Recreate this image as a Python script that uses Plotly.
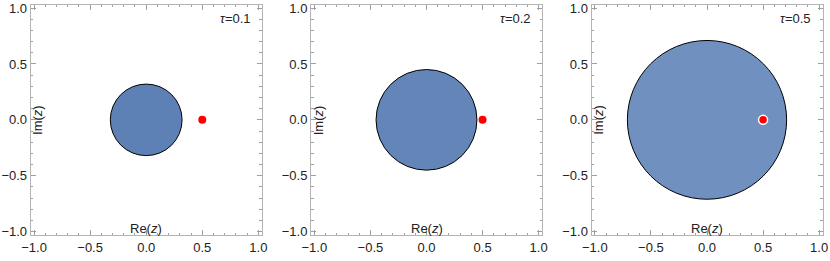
import plotly.graph_objects as go

# ---- data ----
tau_values = [0.1, 0.2, 0.5]
tau_labels = ["0.1", "0.2", "0.5"]
disk_radii = [0.32, 0.45, 0.71]          # radius of eigenvalue disk (|z|)
outlier_re = [0.5, 0.5, 0.5]             # red outlier point
outlier_im = [0.0, 0.0, 0.0]
tick_vals = [-1.0, -0.5, 0.0, 0.5, 1.0]
tick_text = ["\u22121.0", "\u22120.5", "0.0", "0.5", "1.0"]
axis_range = [-1.03, 1.03]

# ---- styles ----
W, H = 830, 261
disk_fills = ["#5E81B5", "#6385B8", "#7090C0"]
FRAME = "#b4b4b4"
TICK = "#a0a0a0"
FONT = "Liberation Sans, Arial, sans-serif"
panel_left_px = [30.7, 311.0, 591.5]
panel_w_px = 231.0
top_px, bottom_px = 4.7, 235.0

fig = go.Figure()
shapes = []
annotations = []
for i in range(3):
    n = "" if i == 0 else str(i + 1)
    xa, ya = "x" + n, "y" + n
    r = disk_radii[i]
    shapes.append(dict(type="circle", xref=xa, yref=ya, x0=-r, x1=r, y0=-r, y1=r,
                       fillcolor=disk_fills[i], line=dict(color="black", width=1),
                       layer="below"))
    fig.add_trace(go.Scatter(
        x=[outlier_re[i]], y=[outlier_im[i]], mode="markers", xaxis=xa, yaxis=ya,
        marker=dict(color="#ff0000", size=9 if i == 2 else 8,
                    line=dict(color="white", width=1.5 if i == 2 else 0)),
        showlegend=False, hoverinfo="skip"))
    x0 = panel_left_px[i] / W
    x1 = (panel_left_px[i] + panel_w_px) / W
    axis_common = dict(range=axis_range, tickvals=tick_vals, ticktext=tick_text,
                       ticks="inside", ticklen=5, tickcolor=TICK, tickwidth=1,
                       showline=True, linecolor=FRAME, linewidth=1, mirror="allticks",
                       showgrid=False, zeroline=False, automargin=False,
                       tickfont=dict(family=FONT, size=13, color="#222"),
                       minor=dict(dtick=0.1, tick0=0, ticks="inside", ticklen=2.5,
                                  tickcolor=TICK, tickwidth=1, showgrid=False))
    fig.update_layout(**{
        ("xaxis" + n): dict(domain=[x0, x1], anchor=ya, **axis_common),
        ("yaxis" + n): dict(domain=[(H - bottom_px) / H, (H - top_px) / H], anchor=xa,
                            **axis_common),
    })
    annotations.append(dict(xref=xa + " domain", yref=ya + " domain", x=0.5, y=0.03,
                            text="Re(<i>z</i>)", showarrow=False,
                            font=dict(family=FONT, size=13, color="#222"),
                            xanchor="center", yanchor="middle"))
    annotations.append(dict(xref=xa + " domain", yref=ya + " domain", x=0.032, y=0.5,
                            text="Im(<i>z</i>)", showarrow=False, textangle=-90,
                            font=dict(family=FONT, size=13, color="#222"),
                            xanchor="center", yanchor="middle"))
    annotations.append(dict(xref=xa + " domain", yref=ya + " domain", x=0.885, y=0.94,
                            text="<i>\u03c4</i>=" + tau_labels[i], showarrow=False,
                            font=dict(family=FONT, size=13, color="#222"),
                            xanchor="center", yanchor="middle"))

fig.update_layout(width=W, height=H, margin=dict(l=0, r=0, t=0, b=0),
                  paper_bgcolor="white", plot_bgcolor="white",
                  shapes=shapes, annotations=annotations, showlegend=False)
fig.write_html("out.html", config={"displayModeBar": False, "staticPlot": True},
               post_script="document.body.style.margin='0';document.body.style.overflow='hidden';")
